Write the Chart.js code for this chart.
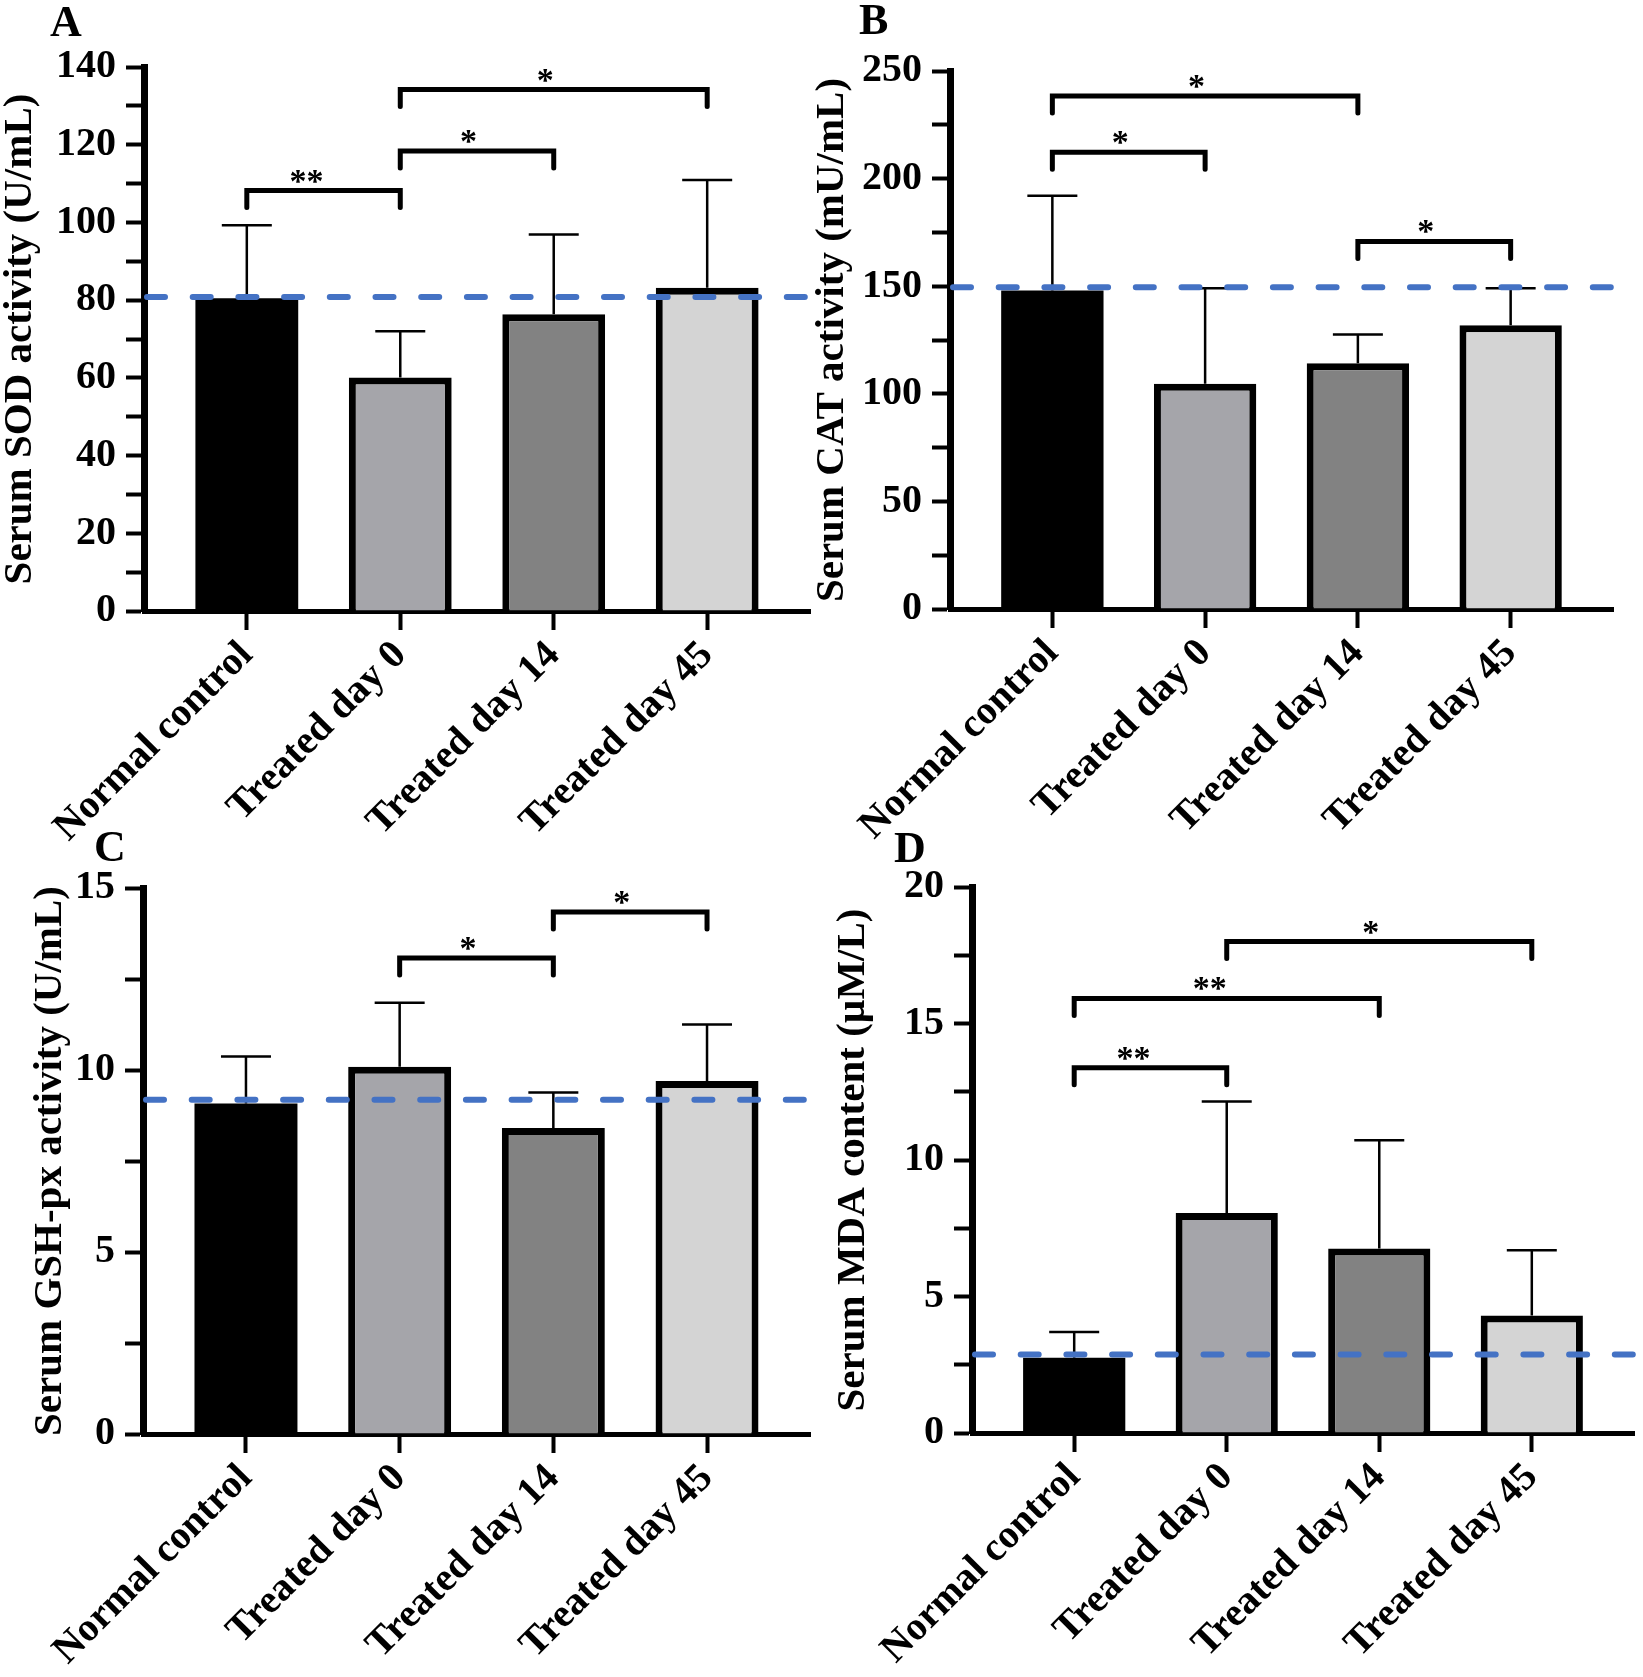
<!DOCTYPE html>
<html>
<head>
<meta charset="utf-8">
<script src="https://cdn.jsdelivr.net/npm/chart.js@4.4.1/dist/chart.umd.min.js"></script>
<style>
  html, body { margin: 0; padding: 0; background: #fff; }
  #wrap { position: relative; width: 1643px; height: 1677px; }
  #wrap canvas { position: absolute; left: 0; top: 0; }
</style>
</head>
<body>
<div id="wrap">
  <canvas id="chartA" width="1643" height="1677"></canvas>
  <canvas id="chartB" width="1643" height="1677"></canvas>
  <canvas id="chartC" width="1643" height="1677"></canvas>
  <canvas id="chartD" width="1643" height="1677"></canvas>
</div>
<script>
const groups = ['Normal control', 'Treated day 0', 'Treated day 14', 'Treated day 45'];
const barColors = ['#000000', '#a5a5aa', '#828282', '#d4d4d4'];

// A - SOD (U/mL)
const sodMean = [80.5, 60.1, 76.4, 83.2];
const sodSD = [18.8, 11.9, 20.5, 27.7];
const sodRef = 80.8;
const sodSig = [[0, 1, 108.2, '**'], [1, 2, 118.4, '*'], [1, 3, 134.2, '*']];

// B - CAT (mU/mL)
const catMean = [148, 104.7, 114.2, 131.8];
const catSD = [44, 44.3, 13.3, 17.2];
const catRef = 149.5;
const catSig = [[0, 1, 212.3, '*'], [0, 2, 238.4, '*'], [2, 3, 170.8, '*']];

// C - GSH-px (U/mL)
const gshMean = [9.08, 10.09, 8.41, 9.70];
const gshSD = [1.29, 1.76, 0.97, 1.55];
const gshRef = 9.18;
const gshSig = [[1, 2, 13.08, '*'], [2, 3, 14.34, '*']];

// D - MDA (uM/L)
const mdaMean = [2.76, 8.06, 6.76, 4.30];
const mdaSD = [0.94, 4.08, 3.96, 2.39];
const mdaRef = 2.88;
const mdaSig = [[0, 1, 13.38, '**'], [0, 2, 15.92, '**'], [1, 3, 18.0, '*']];

const FONT = "'Liberation Serif', 'Times New Roman', serif";

// error bars, reference line, significance brackets, panel letter
const overlay = {
  id: 'overlay',
  afterDraw(chart, args, o) {
    const ctx = chart.ctx;
    const a = chart.chartArea;
    const xs = chart.scales.x, ys = chart.scales.y;
    ctx.save();

    ctx.strokeStyle = '#000';
    ctx.lineWidth = 2.5;
    ctx.lineCap = 'butt';
    o.mean.forEach((m, i) => {
      const px = xs.getPixelForValue(i);
      const y0 = ys.getPixelForValue(m);
      const y1 = ys.getPixelForValue(m + o.sd[i]);
      ctx.beginPath();
      ctx.moveTo(px, y0);
      ctx.lineTo(px, y1);
      ctx.moveTo(px - 25, y1);
      ctx.lineTo(px + 25, y1);
      ctx.stroke();
    });

    const yr = ys.getPixelForValue(o.ref);
    ctx.strokeStyle = '#4472c4';
    ctx.lineWidth = 6;
    ctx.lineCap = 'round';
    ctx.setLineDash([18, 27.7]);
    ctx.beginPath();
    ctx.moveTo(a.left + 3, yr);
    ctx.lineTo(a.right, yr);
    ctx.stroke();
    ctx.setLineDash([]);

    ctx.strokeStyle = '#000';
    ctx.fillStyle = '#000';
    ctx.lineWidth = 5;
    ctx.lineJoin = 'miter';
    ctx.font = 'bold 34px ' + FONT;
    ctx.textAlign = 'right';
    ctx.textBaseline = 'alphabetic';
    o.sig.forEach(([i, j, v, label]) => {
      const x1 = xs.getPixelForValue(i), x2 = xs.getPixelForValue(j);
      const yb = ys.getPixelForValue(v);
      ctx.beginPath();
      ctx.moveTo(x1, yb + 17);
      ctx.lineTo(x1, yb);
      ctx.lineTo(x2, yb);
      ctx.lineTo(x2, yb + 17);
      ctx.stroke();
      ctx.fillText(label, (x1 + x2) / 2, yb + 1);
    });

    ctx.font = 'bold 44px ' + FONT;
    ctx.textAlign = 'left';
    ctx.fillText(o.letter, o.letterX, o.letterY);
    ctx.restore();
  }
};

function makePanel(id, p) {
  new Chart(document.getElementById(id), {
    type: 'bar',
    data: {
      datasets: [{
        data: p.mean.map((v, i) => ({ x: i, y: v })),
        backgroundColor: barColors,
        borderColor: '#000',
        borderWidth: [0, 7, 7, 7],
        borderSkipped: 'bottom',
        categoryPercentage: 1,
        barPercentage: 0.67
      }]
    },
    options: {
      responsive: false,
      animation: false,
      layout: { padding: { left: p.padL, right: p.padR, top: p.padT, bottom: 0 } },
      plugins: {
        legend: { display: false },
        tooltip: { enabled: false },
        overlay: {
          mean: p.mean, sd: p.sd, ref: p.ref, sig: p.sig,
          letter: p.letter, letterX: p.letterX, letterY: p.letterY
        }
      },
      scales: {
        x: {
          type: 'linear',
          bounds: 'data',
          offset: false,
          min: -0.67,
          max: 3.67,
          z: 1,
          border: { display: true, width: 5, color: '#000' },
          grid: { offset: false, drawOnChartArea: false, drawTicks: true, tickLength: 19, tickWidth: 4, tickColor: '#000' },
          afterBuildTicks: s => { s.ticks = groups.map((g, i) => ({ value: i })); },
          ticks: {
            autoSkip: false, minRotation: 45, maxRotation: 45, padding: 2, color: '#000',
            font: { family: FONT, size: 40, weight: 'bold' },
            callback: v => groups[v]
          },
          afterFit: s => { s.height = p.xHeight; }
        },
        y: {
          min: 0,
          max: p.max,
          z: 1,
          border: { display: true, width: 7, color: '#000' },
          grid: { drawOnChartArea: false, drawTicks: true, tickLength: 18, tickWidth: 4, tickColor: '#000' },
          ticks: {
            stepSize: p.step, autoSkip: false, padding: 10, color: '#000',
            font: { family: FONT, size: 40, weight: 'bold' },
            callback: v => (Math.abs(v / p.labelStep - Math.round(v / p.labelStep)) < 1e-6 ? v : '')
          },
          title: {
            display: true, text: p.title, color: '#000', padding: 0,
            font: { family: FONT, size: 41, weight: 'bold', lineHeight: 1 }
          },
          afterFit: s => { s.width = p.yWidth; }
        }
      }
    },
    plugins: [overlay]
  });
}

makePanel('chartA', {
  mean: sodMean, sd: sodSD, ref: sodRef, sig: sodSig, max: 140, step: 10, labelStep: 20,
  title: 'Serum SOD activity (U/mL)', letter: 'A', letterX: 50, letterY: 36,
  padL: 0, yWidth: 144, padT: 67, padR: 833, xHeight: 1066
});
makePanel('chartB', {
  mean: catMean, sd: catSD, ref: catRef, sig: catSig, max: 250, step: 25, labelStep: 50,
  title: 'Serum CAT activity (mU/mL)', letter: 'B', letterX: 859, letterY: 34,
  padL: 811.5, yWidth: 138.5, padT: 71, padR: 30, xHeight: 1068
});
makePanel('chartC', {
  mean: gshMean, sd: gshSD, ref: gshRef, sig: gshSig, max: 15, step: 2.5, labelStep: 5,
  title: 'Serum GSH-px activity (U/mL)', letter: 'C', letterX: 94, letterY: 861,
  padL: 29.5, yWidth: 113.5, padT: 888, padR: 833, xHeight: 243
});
makePanel('chartD', {
  mean: mdaMean, sd: mdaSD, ref: mdaRef, sig: mdaSig, max: 20, step: 2.5, labelStep: 5,
  title: 'Serum MDA content (\u00b5M/L)', letter: 'D', letterX: 894, letterY: 862,
  padL: 832.5, yWidth: 139.5, padT: 887, padR: 9, xHeight: 244
});
</script>
</body>
</html>
